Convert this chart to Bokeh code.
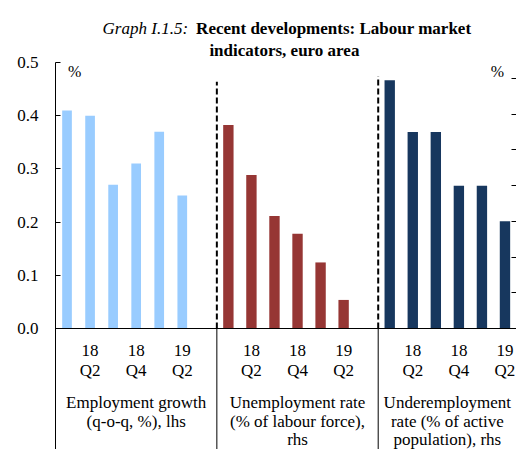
from bokeh.plotting import figure
from bokeh.models import Range1d, LinearAxis, FixedTicker, NumeralTickFormatter, Span
from bokeh.core.properties import value
from bokeh.embed import file_html
from bokeh.resources import INLINE

# ---- data ----
quarters = ["18 Q1", "18 Q2", "18 Q3", "18 Q4", "19 Q1", "19 Q2"]
tick_years = ["18", "18", "19"]
tick_qs = ["Q2", "Q4", "Q2"]
employment_growth = [0.41, 0.40, 0.27, 0.31, 0.37, 0.25]      # lhs, %
unemployment_rate = [8.54, 8.26, 8.03, 7.93, 7.77, 7.56]      # rhs, %
underemployment_rate = [8.79, 8.50, 8.50, 8.20, 8.20, 8.00]   # rhs, %
group_line1 = ["Employment growth", "Unemployment rate", "Underemployment"]
group_line2 = ["(q-o-q, %), lhs", "(% of labour force),", "rate (% of active"]
group_line3 = ["", "rhs", "population), rhs"]
left_ticks = [0.0, 0.1, 0.2, 0.3, 0.4, 0.5]
right_ticks = [7.4, 7.6, 7.8, 8.0, 8.2, 8.4, 8.6, 8.8]
title_italic = "Graph I.1.5:"
title_bold_1 = "Recent developments: Labour market"
title_bold_2 = "indicators, euro area"

FONT = "Liberation Serif"
FS = "17px"
GROUP = 7            # slots per group
RBASE = 7.4          # rhs value at the baseline
LPX = 0.5 / 266      # lhs units per px
RPX = 0.2 / 35.71    # rhs units per px
YMIN = -121 * LPX    # frame continues below the baseline (category labels)
YMAX = 328 * LPX     # ... and above the axes (title)
LTOP = 0.5
RTOP = RBASE + 266 * RPX
BW = 0.42

p = figure(width=516, height=449, output_backend="svg", toolbar_location=None,
           x_range=Range1d(0, 20), y_range=Range1d(YMIN, YMAX),
           min_border_left=55, min_border_right=0, min_border_top=0,
           min_border_bottom=0, x_axis_type=None, y_axis_type=None)
p.extra_y_ranges = {"rhs": Range1d(RBASE + YMIN / LPX * RPX, RBASE + YMAX / LPX * RPX)}
p.outline_line_color = None
p.xgrid.visible = False
p.ygrid.visible = False

n = len(quarters)
xs1 = [0 * GROUP + 0.5 + i for i in range(n)]
xs2 = [1 * GROUP + 0.5 + i for i in range(n)]
xs3 = [2 * GROUP + 0.5 + i for i in range(n)]

p.vbar(x=xs1, top=employment_growth, bottom=0, width=BW,
       color="#99CCFF", line_color=None)
p.vbar(x=xs2, top=unemployment_rate, bottom=RBASE, width=BW + 0.03,
       color="#963634", line_color=None, y_range_name="rhs")
p.vbar(x=xs3, top=underemployment_rate, bottom=RBASE, width=BW + 0.03,
       color="#17375E", line_color=None, y_range_name="rhs")

# baseline (category axis line)
p.add_layout(Span(location=0, dimension="width", line_color="black", line_width=1))

# dashed group separators above the axis, solid ones below
p.segment(x0=[GROUP, 2 * GROUP], y0=[0, 0], x1=[GROUP, 2 * GROUP],
          y1=[0.464, 0.474], line_color="black", line_width=2, line_dash="6 3")
p.segment(x0=[GROUP, 2 * GROUP], y0=[0, 0], x1=[GROUP, 2 * GROUP],
          y1=[YMIN, YMIN], line_color="black", line_width=1)

# left axis
yl = LinearAxis(ticker=FixedTicker(ticks=left_ticks),
                formatter=NumeralTickFormatter(format="0.0"), bounds=(YMIN, LTOP))
yl.major_tick_in = 5
yl.major_tick_out = 0
yl.minor_tick_line_color = None
yl.major_label_standoff = 17
yl.axis_line_color = "black"
yl.major_label_text_font = FONT
yl.major_label_text_font_size = FS
yl.major_label_text_color = "black"
p.add_layout(yl, "left")

# right axis (its labels fall outside the picture in the original)
yr = LinearAxis(y_range_name="rhs", ticker=FixedTicker(ticks=right_ticks),
                major_label_overrides={t: "" for t in right_ticks},
                bounds=(RBASE + YMIN / LPX * RPX, RTOP))
yr.major_tick_in = 5
yr.major_tick_out = 0
yr.minor_tick_line_color = None
yr.major_label_standoff = 0
yr.major_label_text_font_size = "0px"
yr.axis_label_standoff = 0
yr.axis_line_color = "black"
p.add_layout(yr, "right")

# quarter labels under the bars
tx, tyears, tqs = [], [], []
for g in range(3):
    for k in range(len(tick_years)):
        tx.append(g * GROUP + 1.5 + 2 * k)
        tyears.append(tick_years[k])
        tqs.append(tick_qs[k])
p.text(x=tx, y=[-22 * LPX] * len(tx), text=tyears, text_font=value(FONT),
       text_font_size=FS, text_align="center", text_baseline="middle", text_color="black")
p.text(x=tx, y=[-42 * LPX] * len(tx), text=tqs, text_font=value(FONT),
       text_font_size=FS, text_align="center", text_baseline="middle", text_color="black")

# group labels
gx = [3.5, 10.5, 17.0]
for lines, dy in ((group_line1, 74), (group_line2, 93), (group_line3, 111)):
    p.text(x=gx, y=[-dy * LPX] * 3, text=lines, text_font=value(FONT),
           text_font_size=FS, text_align="center", text_baseline="middle",
           text_color="black")

# "%" unit labels
p.text(x=[0.83, 19.17], y=[0.483, 0.483], text=["%", "%"], text_font=value(FONT),
       text_font_size="16px", text_align="center", text_baseline="middle",
       text_color="black")

# title
p.text(x=[5.75], y=[0.5639], text=[title_italic], text_font=value(FONT),
       text_font_size="17px", text_font_style="italic", text_align="right",
       text_baseline="alphabetic", text_color="black")
p.text(x=[6.1], y=[0.5639], text=[title_bold_1], text_font=value(FONT),
       text_font_size="17px", text_font_style="bold", text_align="left",
       text_baseline="alphabetic", text_color="black")
p.text(x=[9.93], y=[0.5226], text=[title_bold_2], text_font=value(FONT),
       text_font_size="17px", text_font_style="bold", text_align="center",
       text_baseline="alphabetic", text_color="black")

open("out.html", "w").write(file_html(p, INLINE))
